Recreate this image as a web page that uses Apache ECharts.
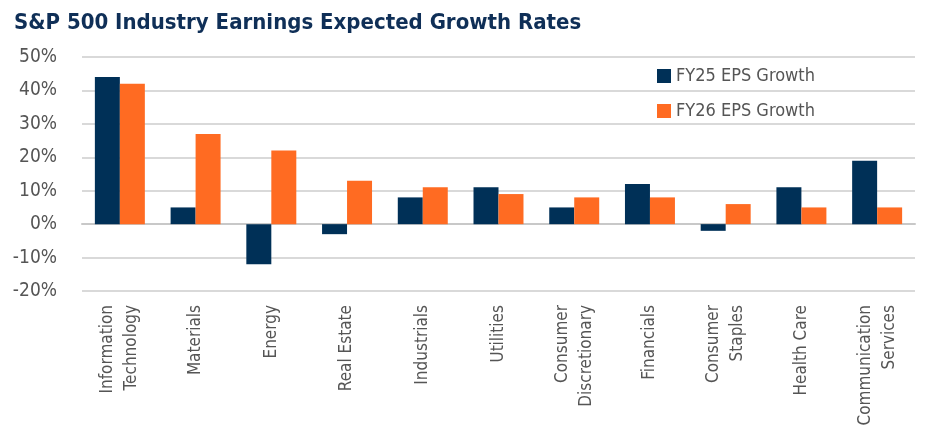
<!DOCTYPE html>
<html>
<head>
<meta charset="utf-8">
<script src="https://cdn.jsdelivr.net/npm/echarts@6/dist/echarts.min.js"></script>
<style>html,body{margin:0;padding:0;background:#fff;}#c{width:936px;height:432px;}</style>
</head>
<body>
<div id="c"></div>
<script>
const categories = ["Information\nTechnology","Materials","Energy","Real Estate","Industrials","Utilities","Consumer\nDiscretionary","Financials","Consumer\nStaples","Health Care","Communication\nServices"];
const fy25 = [44, 5, -12, -3, 8, 11, 5, 12, -2, 11, 19];
const fy26 = [42, 27, 22, 13, 11, 9, 8, 8, 6, 5, 5];
const yTicks = {min: -20, max: 50, interval: 10};
const FONT = '"DejaVu Sans Condensed", "Liberation Sans Narrow", sans-serif';

const chart = echarts.init(document.getElementById('c'));
chart.setOption({
  animation: false,
  title: {
    text: 'S&P 500 Industry Earnings Expected Growth Rates',
    left: 9, top: 7,
    textStyle: {fontFamily: FONT, fontWeight: 'bold', fontSize: 22, color: '#0f2f57'}
  },
  legend: {
    orient: 'vertical', left: 652, top: 62, itemGap: 17,
    itemWidth: 14, itemHeight: 14, icon: 'rect',
    textStyle: {fontFamily: FONT, fontSize: 18, color: '#555'},
    data: ['FY25 EPS Growth', 'FY26 EPS Growth']
  },
  grid: {left: 82, right: 21, top: 57, bottom: 141, containLabel: false},
  xAxis: {
    type: 'category', data: categories,
    axisLine: {lineStyle: {color: '#c8c8c8', width: 2}},
    axisTick: {show: false},
    axisLabel: {rotate: 90, interval: 0, margin: 14, fontFamily: FONT, fontSize: 17, color: '#555', lineHeight: 24}
  },
  yAxis: {
    type: 'value', min: yTicks.min, max: yTicks.max, interval: yTicks.interval,
    axisLine: {show: false}, axisTick: {show: false},
    splitLine: {lineStyle: {color: '#d9d9d9', width: 2}},
    axisLabel: {formatter: '{value}%', margin: 25, fontFamily: FONT, fontSize: 19, color: '#555'}
  },
  series: [
    {name: 'FY25 EPS Growth', type: 'bar', data: fy25, barGap: '0%', barCategoryGap: '34%', itemStyle: {color: '#003057'}},
    {name: 'FY26 EPS Growth', type: 'bar', data: fy26, itemStyle: {color: '#ff6b22'}}
  ]
});
</script>
</body>
</html>
